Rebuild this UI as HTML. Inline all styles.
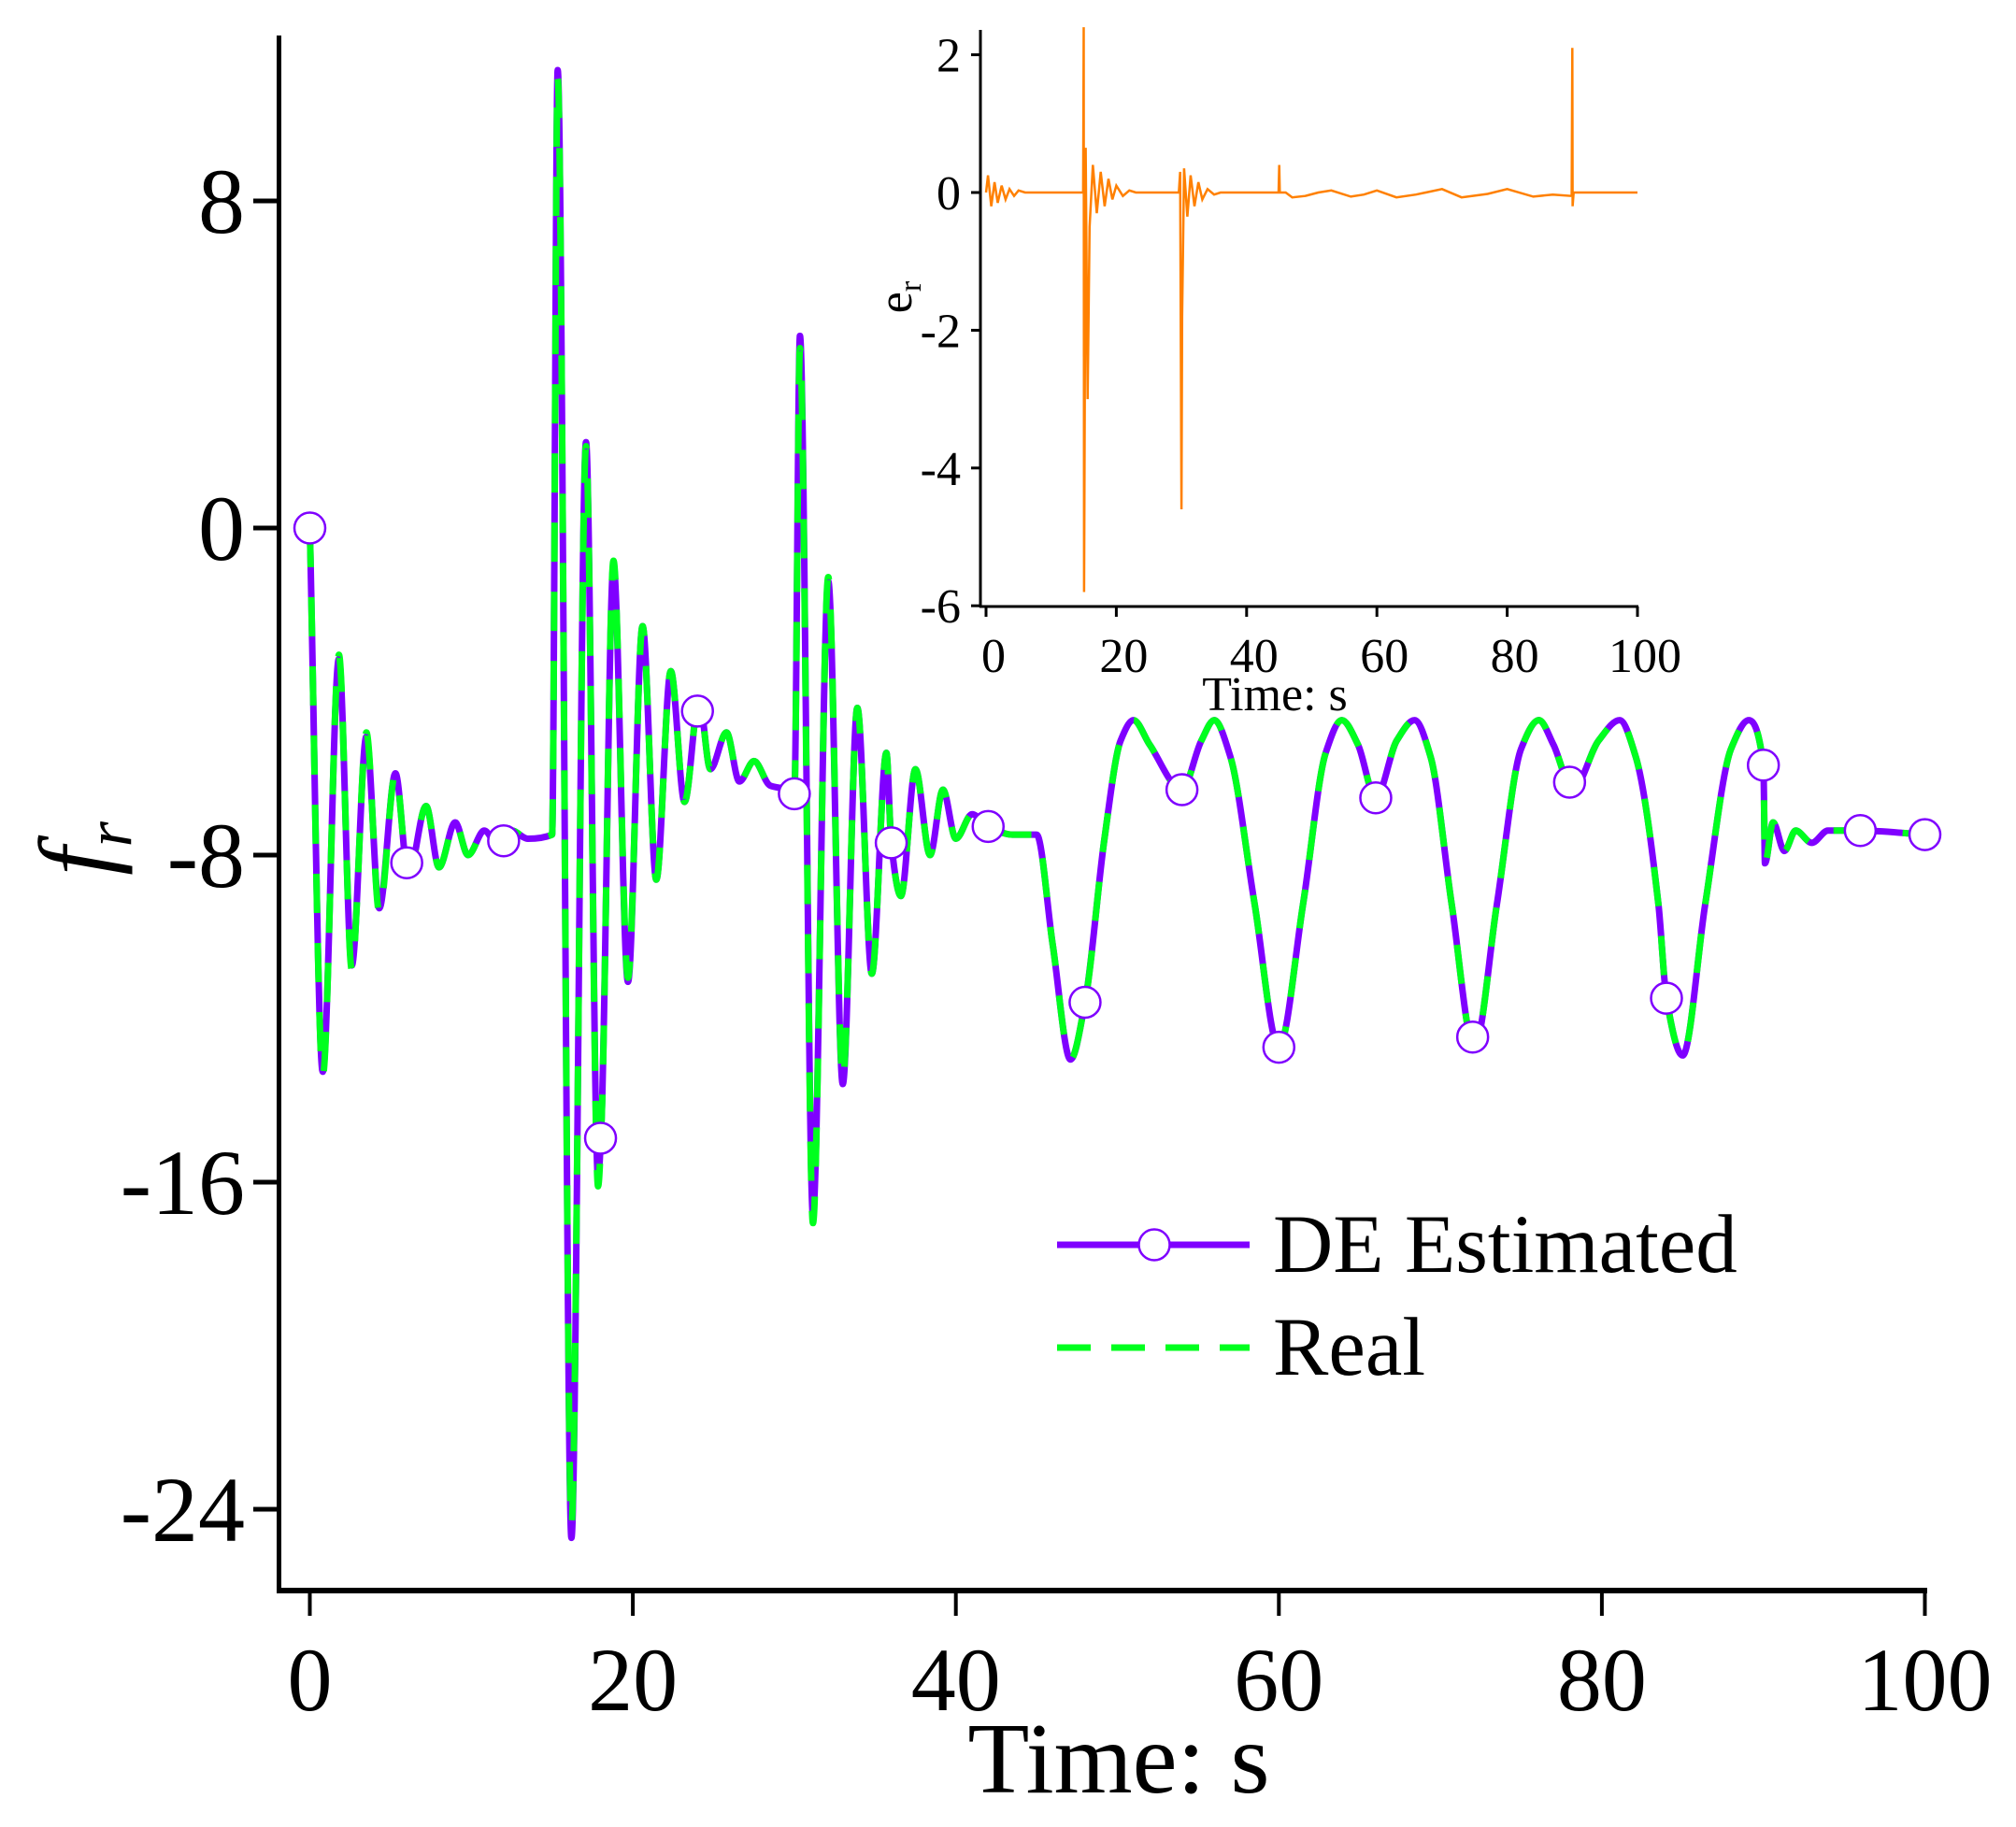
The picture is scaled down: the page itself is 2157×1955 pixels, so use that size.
<!DOCTYPE html>
<html><head><meta charset="utf-8">
<style>
html,body{margin:0;padding:0;background:#fff;}
svg{display:block;font-family:"Liberation Serif",serif;}
</style></head>
<body>
<svg id="chart" width="2157" height="1955" viewBox="0 0 2157 1955" xmlns="http://www.w3.org/2000/svg">
<rect x="0" y="0" width="2157" height="1955" fill="#fff"/>
<g id="main-plot"></g>
<g id="inset-plot"></g>
<g id="legend">
  <line x1="1131" y1="1332" x2="1337" y2="1332" stroke="#7f00ff" stroke-width="7"/>
  <circle cx="1235" cy="1332" r="16.5" fill="#fff" stroke="#7f00ff" stroke-width="2.5"/>
  <text x="1362" y="1361" font-size="89">DE Estimated</text>
  <line x1="1131" y1="1442" x2="1337" y2="1442" stroke="#00ff1e" stroke-width="7" stroke-dasharray="36,22"/>
  <text x="1362" y="1471" font-size="89">Real</text>
</g>
</svg>
<script>
// ---- main chart data ----
const timeMain = [0,0.8,1.8,2.6,3.5,4.3,5.3,6.1,7.2,8.0,9.0,9.8,10.8,11.7,12.5,13.5,15.0,15.35,16.2,17.1,17.85,18.05,18.8,19.7,20.6,21.45,22.35,23.2,24.1,24.8,25.8,26.6,27.5,28.5,29.6,30.0,30.35,31.15,32.1,33.0,33.9,34.8,35.7,36.0,36.6,37.5,38.4,39.2,40.0,41.0,42.0,43.5,45.0,46,47.1,48,49.2,50.2,51,52,54,55.2,56,57,58.5,60,61.5,62.9,63.9,64.9,66,67.3,68.4,69.4,70.7,72.1,73.5,75,76.1,77,78.2,79.8,81.1,82.1,83.5,84,85,86.4,88,89.1,90.0,90.1,90.6,91.3,92.0,93,94,96,100];
const fEstimated = [0,-13.3,-3.2,-10.7,-5.1,-9.3,-6.0,-8.5,-6.8,-8.3,-7.2,-8.0,-7.4,-7.8,-7.4,-7.6,-7.5,11.2,-24.7,2.1,-15.9,-14.6,-0.9,-11.1,-2.4,-8.6,-3.5,-6.7,-4.2,-5.9,-5.0,-6.2,-5.7,-6.3,-6.4,-6.5,4.7,-16.8,-1.3,-13.6,-4.4,-10.9,-5.5,-7.7,-9.0,-5.9,-8.0,-6.4,-7.6,-7.0,-7.3,-7.5,-7.5,-10.2,-13.0,-11.6,-7.6,-5.2,-4.7,-5.3,-6.4,-5.2,-4.7,-5.6,-9.2,-12.7,-9.2,-5.5,-4.7,-5.3,-6.6,-5.2,-4.7,-5.6,-9.2,-12.7,-9.2,-5.4,-4.7,-5.3,-6.4,-5.2,-4.7,-5.6,-9.2,-11.5,-12.9,-9.2,-5.4,-4.7,-5.8,-8.2,-7.2,-7.9,-7.4,-7.7,-7.4,-7.4,-7.5];
const fReal = [0,-13.4,-3.1,-10.8,-5.0,-9.4,-6.0,-8.5,-6.8,-8.3,-7.2,-8.0,-7.4,-7.8,-7.4,-7.6,-7.5,11.0,-24.4,2.0,-16.1,-14.7,-0.8,-11.0,-2.4,-8.6,-3.5,-6.7,-4.2,-5.9,-5.0,-6.2,-5.7,-6.3,-6.4,-6.5,4.4,-17.0,-1.2,-13.5,-4.4,-10.9,-5.5,-7.7,-9.0,-5.9,-8.0,-6.4,-7.6,-7.0,-7.3,-7.5,-7.5,-10.2,-13.0,-11.6,-7.6,-5.2,-4.7,-5.3,-6.4,-5.2,-4.7,-5.6,-9.2,-12.7,-9.2,-5.5,-4.7,-5.3,-6.6,-5.2,-4.7,-5.6,-9.2,-12.7,-9.2,-5.4,-4.7,-5.3,-6.4,-5.2,-4.7,-5.6,-9.2,-11.5,-12.9,-9.2,-5.4,-4.7,-5.8,-8.2,-7.2,-7.9,-7.4,-7.7,-7.4,-7.4,-7.5];
const markerTimes = [0,6,12,18,24,30,36,42,48,54,60,66,72,78,84,90,96,100];
const xTicksMain = [0,20,40,60,80,100];
const yTicksMain = [8,0,-8,-16,-24];
// ---- inset data ----
const timeErr = [0,0.3,0.8,1.3,1.8,2.4,3,3.6,4.3,5,6,14.9,15.0,15.05,15.3,15.6,15.9,16.4,17,17.6,18.2,18.8,19.4,20,21,22,23,29.6,29.8,30.0,30.1,30.4,30.9,31.4,32,32.6,33.2,34,35,36,44.9,45.0,45.1,46,47,49,51,53,56,58,60,63,66,70,73,77,80,84,87,89.9,90.0,90.05,90.2,100];
const errValues = [0,0.25,-0.2,0.15,-0.15,0.1,-0.1,0.05,-0.05,0.03,0,0,2.4,-5.8,0.65,-3.0,-0.5,0.4,-0.3,0.3,-0.2,0.2,-0.1,0.1,-0.05,0.03,0,0,0.3,-4.6,-1.8,0.35,-0.35,0.25,-0.2,0.15,-0.1,0.05,-0.03,0,0,0.4,0,0,-0.07,-0.05,0,0.03,-0.06,-0.03,0.03,-0.07,-0.03,0.05,-0.07,-0.02,0.05,-0.06,-0.03,-0.05,2.1,-0.2,0,0];
const xTicksInset = [0,20,40,60,80,100];
const yTicksInset = [2,0,-2,-4,-6];

const NS = "http://www.w3.org/2000/svg";
function mk(tag, attrs, parent){
  const el = document.createElementNS(NS, tag);
  for (const k in attrs) el.setAttribute(k, attrs[k]);
  parent.appendChild(el);
  return el;
}
const mx = t => 331.5 + t * 17.28;
const my = v => 565 - v * 43.75;
const main = document.getElementById('main-plot');

// monotone cubic (Fritsch-Carlson) path - no overshoot
function smoothPath(ts, vs, fx, fy){
  const X = ts.map(fx), Y = vs.map(fy), n = X.length;
  const d = [], m = new Array(n);
  for (let i=0;i<n-1;i++) d.push((Y[i+1]-Y[i])/(X[i+1]-X[i]));
  m[0]=d[0]; m[n-1]=d[n-2];
  for (let i=1;i<n-1;i++){
    if (d[i-1]*d[i] <= 0) m[i]=0;
    else { const w1=2*(X[i+1]-X[i])+(X[i]-X[i-1]), w2=(X[i+1]-X[i])+2*(X[i]-X[i-1]);
      m[i]=(w1+w2)/(w1/d[i-1]+w2/d[i]); }
  }
  let p = `M${X[0].toFixed(1)},${Y[0].toFixed(1)}`;
  for (let i=0;i<n-1;i++){
    const h=(X[i+1]-X[i])/3;
    p += ` C${(X[i]+h).toFixed(1)},${(Y[i]+m[i]*h).toFixed(1)} ${(X[i+1]-h).toFixed(1)},${(Y[i+1]-m[i+1]*h).toFixed(1)} ${X[i+1].toFixed(1)},${Y[i+1].toFixed(1)}`;
  }
  return p;
}
function interp(ts, vs, t){
  for (let i=0;i<ts.length-1;i++){
    if (t>=ts[i] && t<=ts[i+1]){ const f=(t-ts[i])/(ts[i+1]-ts[i]); return vs[i]+f*(vs[i+1]-vs[i]); }
  }
  return vs[vs.length-1];
}

const est = mk('path', {d: smoothPath(timeMain, fEstimated, mx, my), fill:'none', stroke:'#7f00ff', 'stroke-width':7, 'stroke-linejoin':'round'}, main);


const real = mk('path', {d: smoothPath(timeMain, fReal, mx, my), fill:'none', stroke:'#00ff1e', 'stroke-width':7, 'stroke-dasharray':'42,32'}, main);


markerTimes.forEach(t => {
  const c = mk('circle', {cx: mx(t), cy: my(interp(timeMain, fEstimated, t)), r:16.5, fill:'#fff', stroke:'#7f00ff', 'stroke-width':2.5}, main);
  
  
});
const yAxis = mk('line', {x1:298.5, y1:38, x2:298.5, y2:1705, stroke:'#000', 'stroke-width':5}, main);


const xAxis = mk('line', {x1:296, y1:1702, x2:2062, y2:1702, stroke:'#000', 'stroke-width':6}, main);


xTicksMain.forEach(t => {
  const tk = mk('line', {x1:mx(t), y1:1702, x2:mx(t), y2:1729, stroke:'#000', 'stroke-width':4}, main);
  
  
  const lb = mk('text', {x:mx(t), y:1830, 'font-size':96, 'text-anchor':'middle'}, main);
  lb.textContent = t;
  
  
});
yTicksMain.forEach(v => {
  const tk = mk('line', {x1:271, y1:my(v), x2:298, y2:my(v), stroke:'#000', 'stroke-width':5}, main);
  
  
  const lb = mk('text', {x:262, y:my(v)+34, 'font-size':100, 'text-anchor':'end'}, main);
  lb.textContent = v;
  
  
});
const xt = mk('text', {x:1197, y:1918, 'font-size':108, 'text-anchor':'middle'}, main);
xt.textContent = 'Time: s';


const yt = mk('text', {x:0, y:0, 'font-size':110, 'font-style':'italic', 'text-anchor':'middle', transform:'translate(118,908) rotate(-90)'}, main);
yt.innerHTML = 'f<tspan font-size="70" dy="22">r</tspan>';



// inset
const ix = t => 1055 + t * 6.97;
const iy = v => 206 - v * 73.7;
const inset = document.getElementById('inset-plot');
const errLine = mk('polyline', {points: timeErr.map((t,i)=>`${ix(t).toFixed(1)},${iy(errValues[i]).toFixed(1)}`).join(' '), fill:'none', stroke:'#ff8000', 'stroke-width':2.5}, inset);


const iyAxis = mk('line', {x1:1049, y1:32, x2:1049, y2:650, stroke:'#000', 'stroke-width':3}, inset);


const ixAxis = mk('line', {x1:1048, y1:649, x2:1753, y2:649, stroke:'#000', 'stroke-width':3}, inset);


xTicksInset.forEach(t => {
  const tk = mk('line', {x1:ix(t), y1:649, x2:ix(t), y2:660, stroke:'#000', 'stroke-width':3}, inset);
  
  
  const lb = mk('text', {x:ix(t)+8, y:719, 'font-size':52, 'text-anchor':'middle'}, inset);
  lb.textContent = t;
  
  
});
yTicksInset.forEach(v => {
  const tk = mk('line', {x1:1039, y1:iy(v), x2:1049, y2:iy(v), stroke:'#000', 'stroke-width':3}, inset);
  
  
  const lb = mk('text', {x:1028, y:iy(v)+18, 'font-size':52, 'text-anchor':'end'}, inset);
  lb.textContent = v;
  
  
});
const ixt = mk('text', {x:1364, y:760, 'font-size':52, 'text-anchor':'middle'}, inset);
ixt.textContent = 'Time: s';


const iyt = mk('text', {x:0, y:0, 'font-size':52, 'text-anchor':'middle', transform:'translate(975,318) rotate(-90)'}, inset);
iyt.innerHTML = 'e<tspan font-size="34" dy="10">r</tspan>';


</script>
</body></html>
